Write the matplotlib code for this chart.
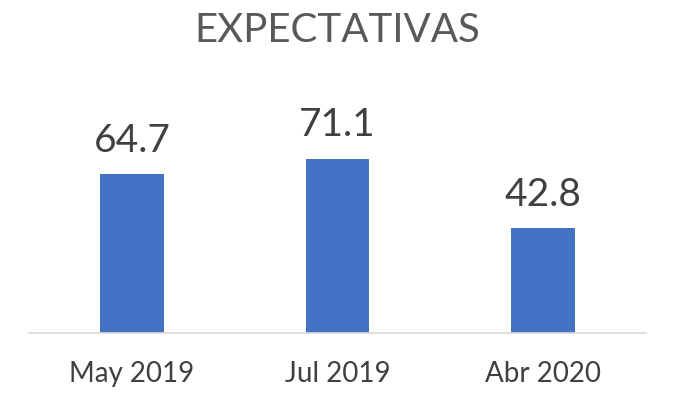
import matplotlib.pyplot as plt

plt.rcParams["font.family"] = ["Lato", "DejaVu Sans"]

categories = ["May 2019", "Jul 2019", "Abr 2020"]
values = [64.7, 71.1, 42.8]
labels = ["64.7", "71.1", "42.8"]

fig = plt.figure(figsize=(6.75, 4), dpi=100)
ax = fig.add_axes([0.043, 0.168, 0.914, 0.49])

bars = ax.bar(range(len(values)), values, width=0.31, color="#4472C4")
for rect, lab in zip(bars, labels):
    ax.annotate(lab, (rect.get_x() + rect.get_width() / 2, rect.get_height()),
                xytext=(0, 11), textcoords="offset points",
                ha="center", va="bottom", fontsize=28, color="#404040")

ax.set_xlim(-0.5, 2.5)
ax.set_ylim(0, 80)
ax.set_xticks(range(len(categories)))
ax.set_xticklabels(categories, fontsize=20, color="#404040")
ax.tick_params(axis="x", length=0, pad=20)
ax.set_yticks([])
for side in ["top", "right", "left"]:
    ax.spines[side].set_visible(False)
ax.spines["bottom"].set_color("#D9D9D9")
ax.spines["bottom"].set_linewidth(1.2)

fig.text(0.5, 0.925, "EXPECTATIVAS", ha="center", va="center", fontsize=29, color="#595959")

fig.savefig("out.png", dpi=100)
